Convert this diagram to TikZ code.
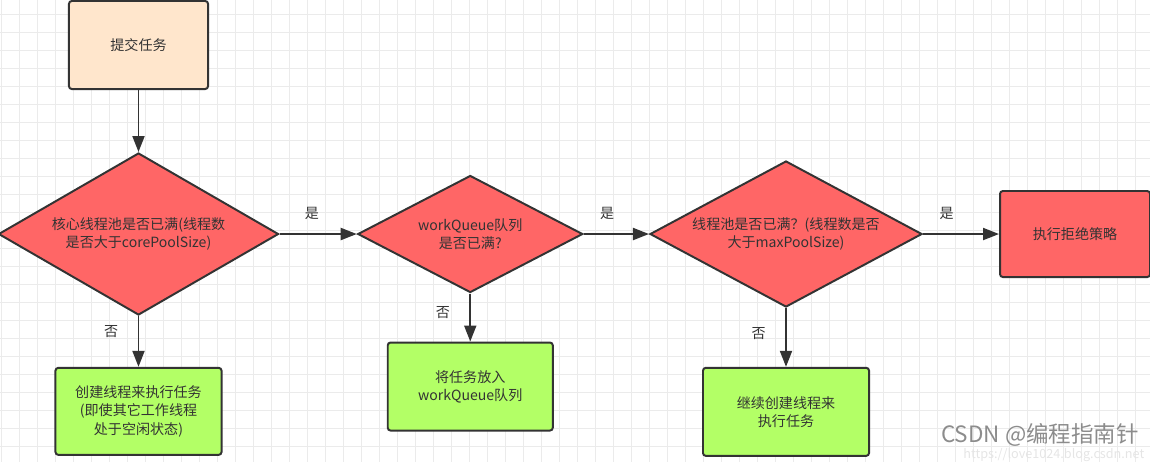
\documentclass[tikz,border=0pt]{standalone}
\usepackage{fontspec}
\setmainfont{Noto Sans CJK SC}
\usetikzlibrary{shapes.geometric, arrows.meta, positioning}
\definecolor{linecol}{HTML}{333333}
\definecolor{gridcol}{HTML}{EBEBEB}
\definecolor{redfill}{HTML}{FF6666}
\definecolor{greenfill}{HTML}{B3FF66}
\definecolor{peachfill}{HTML}{FFE6CC}

\begin{document}
\begin{tikzpicture}[
    x=0.025cm, y=-0.025cm,
    font=\fontsize{10}{13}\selectfont,
    box/.style={rectangle, rounded corners=2pt, draw=linecol, line width=1.4pt, text=linecol, align=center, inner sep=2pt},
    decision/.style={diamond, draw=linecol, line width=1.4pt, fill=redfill, text=linecol, align=center, inner sep=0pt},
    flowline/.style={draw=linecol, line width=1.4pt, -{Triangle[length=0.4cm, width=0.3cm]}},
    tag/.style={text=linecol, inner sep=1pt}
]
    \useasboundingbox (0,0) rectangle (1150,462);
    % background grid
    \foreach \gx in {0,...,63} \draw[gridcol, line width=0.6pt] (1.7+18*\gx,0) -- (1.7+18*\gx,462);
    \foreach \gy in {1,...,26} \draw[gridcol, line width=0.6pt] (0,-4+18*\gy) -- (1150,-4+18*\gy);

    \node (submit) [box, fill=peachfill, minimum width=3.475cm, minimum height=2.2cm] at (138.5,45) {提交任务};
    \node (core) [decision, aspect=1.73, minimum width=7cm, minimum height=4.05cm, below=1.55cm of submit] {核心线程池是否已满(线程数\\是否大于corePoolSize)};
    \node (queue) [decision, aspect=1.92, minimum width=5.625cm, minimum height=2.925cm, right=1.93cm of core] {workQueue队列\\是否已满?};
    \node (max) [decision, aspect=1.86, minimum width=6.8cm, minimum height=3.65cm, right=1.63cm of queue] {线程池是否已满？(线程数是否\\大于maxPoolSize)};
    \node (reject) [box, fill=redfill, minimum width=3.75cm, minimum height=2.15cm, right=1.9cm of max] {执行拒绝策略};
    \node (create) [box, fill=greenfill, minimum width=4.15cm, minimum height=2.175cm, below=1.27cm of core] {创建线程来执行任务\\(即使其它工作线程\\处于空闲状态)};
    \node (enqueue) [box, fill=greenfill, minimum width=4.125cm, minimum height=2.2cm, below=1.2cm of queue] {将任务放入\\workQueue队列};
    \node (extra) [box, fill=greenfill, minimum width=4.15cm, minimum height=2.2cm, below=1.47cm of max] {继续创建线程来\\执行任务};

    \draw [flowline] (submit) -- (core);
    \draw [flowline] (core) -- node[tag, above=0.3cm, pos=0.42] {是} (queue);
    \draw [flowline] (queue) -- node[tag, above=0.3cm, pos=0.36] {是} (max);
    \draw [flowline] (max) -- node[tag, above=0.3cm, pos=0.31] {是} (reject);
    \draw [flowline] (core) -- node[tag, left=0.45cm, pos=0.31] {否} (create);
    \draw [flowline] (queue) -- node[tag, left=0.45cm, pos=0.39] {否} (enqueue);
    \draw [flowline] (max) -- node[tag, left=0.45cm, pos=0.44] {否} (extra);

    % watermark
    \node (mark) [text=gray!90, font=\fontsize{16}{16}\selectfont] at (1040,435) {CSDN @编程指南针};
    \node (url) [text=gray!20, font=\fontsize{9}{9}\selectfont, anchor=east, inner sep=1pt] at (1146,455) {https://love1024.blog.csdn.net};
\end{tikzpicture}
\end{document}
